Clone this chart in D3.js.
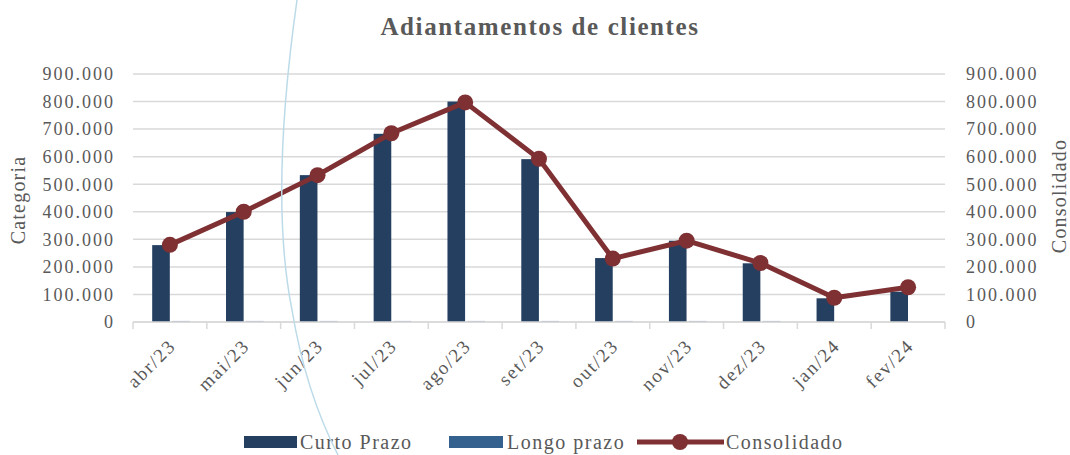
<!DOCTYPE html>
<html>
<head>
<meta charset="utf-8">
<script src="https://cdn.jsdelivr.net/npm/d3@7"></script>
<style>
  html, body { margin: 0; padding: 0; background: #fff; }
  text { font-family: "Liberation Serif", "DejaVu Serif", serif; fill: #595959; }
</style>
</head>
<body>
<div id="chart"></div>
<script>
// chart data
const categories = ["abr/23", "mai/23", "jun/23", "jul/23", "ago/23", "set/23", "out/23", "nov/23", "dez/23", "jan/24", "fev/24"];
const curtoPrazo = [279000, 399000, 533000, 683000, 800000, 591000, 232000, 295000, 213000, 86000, 110000];
const longoPrazo = [4000, 4000, 4000, 4000, 4000, 4000, 4000, 4000, 4000, 0, 0];
const consolidado = [280000, 400000, 533000, 685000, 797000, 592000, 230000, 295000, 214000, 88000, 126000];
const yTicks = [0, 100000, 200000, 300000, 400000, 500000, 600000, 700000, 800000, 900000];

const width = 1070, height = 455;
const margin = { left: 133, right: 125, top: 74, bottom: 133 };

const svg = d3.select("#chart").append("svg")
  .attr("width", width)
  .attr("height", height);

const x = d3.scaleBand()
  .domain(categories)
  .range([margin.left, width - margin.right]);

const inner = d3.scaleBand()
  .domain(["curto", "longo"])
  .range([x.bandwidth() * 0.26, x.bandwidth() * 0.77])
  .paddingInner(0.12);

const y = d3.scaleLinear()
  .domain([0, 900000])
  .range([height - margin.bottom, margin.top]);

const fmt = d => d3.format(",")(d).replace(/,/g, ".");

// gridlines
svg.append("g")
  .selectAll("line")
  .data(yTicks)
  .join("line")
  .attr("x1", margin.left)
  .attr("x2", width - margin.right)
  .attr("y1", d => y(d))
  .attr("y2", d => y(d))
  .attr("stroke", "#d9d9d9")
  .attr("stroke-width", 1.5);

// left axis labels
svg.append("g")
  .selectAll("text")
  .data(yTicks)
  .join("text")
  .attr("x", 115)
  .attr("y", d => y(d))
  .attr("dy", "0.35em")
  .attr("text-anchor", "end")
  .style("font-size", "18px")
  .style("letter-spacing", "2px")
  .text(d => fmt(d));

// right axis labels
svg.append("g")
  .selectAll("text")
  .data(yTicks)
  .join("text")
  .attr("x", 966)
  .attr("y", d => y(d))
  .attr("dy", "0.35em")
  .attr("text-anchor", "start")
  .style("font-size", "18px")
  .style("letter-spacing", "2px")
  .text(d => fmt(d));

// bars
const groups = svg.append("g")
  .selectAll("g")
  .data(categories)
  .join("g")
  .attr("transform", d => `translate(${x(d)},0)`);

groups.append("rect")
  .attr("x", inner("curto"))
  .attr("width", inner.bandwidth())
  .attr("y", (d, i) => y(curtoPrazo[i]))
  .attr("height", (d, i) => y(0) - y(curtoPrazo[i]))
  .attr("fill", "#243f60");

groups.append("rect")
  .attr("x", inner("longo"))
  .attr("width", inner.bandwidth())
  .attr("y", (d, i) => y(longoPrazo[i]))
  .attr("height", (d, i) => y(0) - y(longoPrazo[i]))
  .attr("fill", "#9aabc4");

// x axis line and ticks
const xAxis = svg.append("g")
  .attr("transform", `translate(0,${y(0)})`);

xAxis.append("line")
  .attr("x1", margin.left)
  .attr("x2", width - margin.right)
  .attr("stroke", "#d9d9d9")
  .attr("stroke-width", 1.5);

const tickPos = categories.map(c => x(c)).concat([x(categories[categories.length - 1]) + x.bandwidth()]);
xAxis.selectAll(".tick")
  .data(tickPos)
  .join("line")
  .attr("class", "tick")
  .attr("x1", d => d)
  .attr("x2", d => d)
  .attr("y1", 0)
  .attr("y2", 7)
  .attr("stroke", "#d9d9d9")
  .attr("stroke-width", 1.5);

xAxis.selectAll(".lbl")
  .data(categories)
  .join("text")
  .attr("class", "lbl")
  .attr("text-anchor", "end")
  .style("font-size", "19px")
  .style("letter-spacing", "1.8px")
  .attr("transform", d => `translate(${x(d) + x.bandwidth() / 2 + 7},${25}) rotate(-45)`)
  .text(d => d);

// consolidado line
const line = d3.line()
  .x((d, i) => x(categories[i]) + x.bandwidth() / 2)
  .y(d => y(d));

svg.append("path")
  .datum(consolidado)
  .attr("d", line)
  .attr("fill", "none")
  .attr("stroke", "#7f3033")
  .attr("stroke-width", 5)
  .attr("stroke-linejoin", "round");

svg.append("g")
  .selectAll("circle")
  .data(consolidado)
  .join("circle")
  .attr("cx", (d, i) => x(categories[i]) + x.bandwidth() / 2)
  .attr("cy", d => y(d))
  .attr("r", 8)
  .attr("fill", "#7f3033");

// title
svg.append("text")
  .attr("x", 540)
  .attr("y", 35)
  .attr("text-anchor", "middle")
  .style("font-size", "25px")
  .style("font-weight", "bold")
  .style("letter-spacing", "1.6px")
  .text("Adiantamentos de clientes");

// axis titles
svg.append("text")
  .attr("transform", `translate(25,${y(450000) + 2}) rotate(-90)`)
  .attr("text-anchor", "middle")
  .style("font-size", "20px")
  .style("letter-spacing", "1.2px")
  .text("Categoria");

svg.append("text")
  .attr("transform", `translate(1066,${y(450000) - 2}) rotate(-90)`)
  .attr("text-anchor", "middle")
  .style("font-size", "20px")
  .style("letter-spacing", "1.2px")
  .text("Consolidado");

// legend
const legend = svg.append("g").attr("transform", "translate(0,442)");

legend.append("rect").attr("x", 244).attr("y", -6).attr("width", 53).attr("height", 12).attr("fill", "#243f60");
legend.append("text").attr("x", 300).attr("y", 0).attr("dy", "0.33em").style("font-size", "20px").style("letter-spacing", "1.5px").text("Curto Prazo");

legend.append("rect").attr("x", 449).attr("y", -6).attr("width", 54).attr("height", 12).attr("fill", "#35618f");
legend.append("text").attr("x", 507).attr("y", 0).attr("dy", "0.33em").style("font-size", "20px").style("letter-spacing", "1.5px").text("Longo prazo");

legend.append("line").attr("x1", 637).attr("x2", 724).attr("y1", 0).attr("y2", 0)
  .attr("stroke", "#7f3033").attr("stroke-width", 5);
legend.append("circle").attr("cx", 680).attr("cy", 0).attr("r", 8).attr("fill", "#7f3033");
legend.append("text").attr("x", 726).attr("y", 0).attr("dy", "0.33em").style("font-size", "20px").style("letter-spacing", "1.5px").text("Consolidado");

// faint overlay curve seen on the original capture
svg.append("path")
  .attr("d", "M297,0 C280,120 276,230 292,310 C302,370 320,420 338,455")
  .attr("fill", "none")
  .attr("stroke", "#bcdbe9")
  .attr("stroke-width", 1.5);
</script>
</body>
</html>
